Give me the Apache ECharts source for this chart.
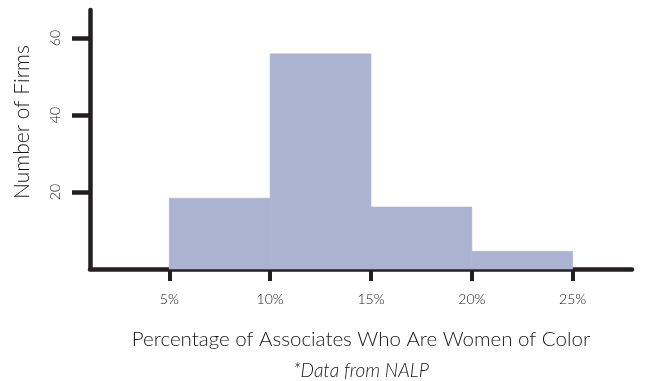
<!DOCTYPE html>
<html>
<head>
<meta charset="utf-8">
<script src="https://cdn.jsdelivr.net/npm/echarts@6/dist/echarts.min.js"></script>
<style>
  html, body { margin: 0; padding: 0; background: #fff; }
  #chart { width: 652px; height: 381px; }
</style>
</head>
<body>
<div id="chart"></div>
<script>
// histogram bins (percent of associates) and firm counts
const binStart = [5, 10, 15, 20]
const binEnd = [10, 15, 20, 25]
const firmCounts = [18.4, 55.9, 16.1, 4.6]
const xTicks = [5, 10, 15, 20, 25]
const yTicks = [20, 40, 60]

const axisColor = '#231f20'
const barColor = '#abb3d0'
const textColor = '#161616'
const font = 'Lato, "Open Sans", sans-serif'

const chart = echarts.init(document.getElementById('chart'))

const seriesData = binStart.map((s, i) => [s, binEnd[i], firmCounts[i]])

const option = {
  animation: false,
  grid: { left: 90, right: 20, top: 10, bottom: 112, outerBoundsMode: 'none' },
  xAxis: {
    type: 'value',
    min: 1.07,
    max: 27.94,
    splitLine: { show: false },
    axisLine: { lineStyle: { color: axisColor, width: 4.5 } },
    axisTick: { customValues: xTicks, length: 12, lineStyle: { color: axisColor, width: 4 } },
    axisLabel: {
      customValues: xTicks,
      formatter: v => v + '%',
      margin: 23,
      fontSize: 14,
      fontWeight: 300,
      color: textColor,
      fontFamily: font
    },
    name: '{a|Percentage of Associates Who Are Women of Color}\n{b|*Data from NALP}',
    nameLocation: 'middle',
    nameGap: 55,
    nameTextStyle: {
      verticalAlign: 'top',
      rich: {
        a: { fontSize: 20.5, fontWeight: 300, color: textColor, fontFamily: font, lineHeight: 31 },
        b: { fontSize: 19, fontWeight: 300, color: textColor, fontFamily: font, fontStyle: 'italic', lineHeight: 31 }
      }
    }
  },
  yAxis: {
    type: 'value',
    min: 0,
    max: 67.3,
    splitLine: { show: false },
    axisLine: { show: true, lineStyle: { color: axisColor, width: 4.5 } },
    axisTick: { show: true, customValues: yTicks, length: 18, lineStyle: { color: axisColor, width: 4.5 } },
    axisLabel: {
      customValues: yTicks,
      rotate: 90,
      margin: 28,
      fontSize: 14,
      fontWeight: 300,
      color: textColor,
      fontFamily: font
    },
    name: 'Number of Firms',
    nameLocation: 'middle',
    nameGap: 57,
    nameTextStyle: { fontSize: 21, fontWeight: 300, color: textColor, fontFamily: font, padding: [0, 0, 0, 35] }
  },
  series: [{
    type: 'custom',
    data: seriesData,
    encode: { x: [0, 1], y: 2 },
    renderItem: (params, api) => {
      const p0 = api.coord([api.value(0), 0])
      const p1 = api.coord([api.value(1), api.value(2)])
      return {
        type: 'rect',
        shape: { x: p0[0], y: p1[1], width: p1[0] - p0[0], height: p0[1] - p1[1] },
        style: { fill: barColor, stroke: barColor, lineWidth: 0.6 }
      }
    },
    z: 1
  }]
}

chart.setOption(option)
</script>
</body>
</html>
